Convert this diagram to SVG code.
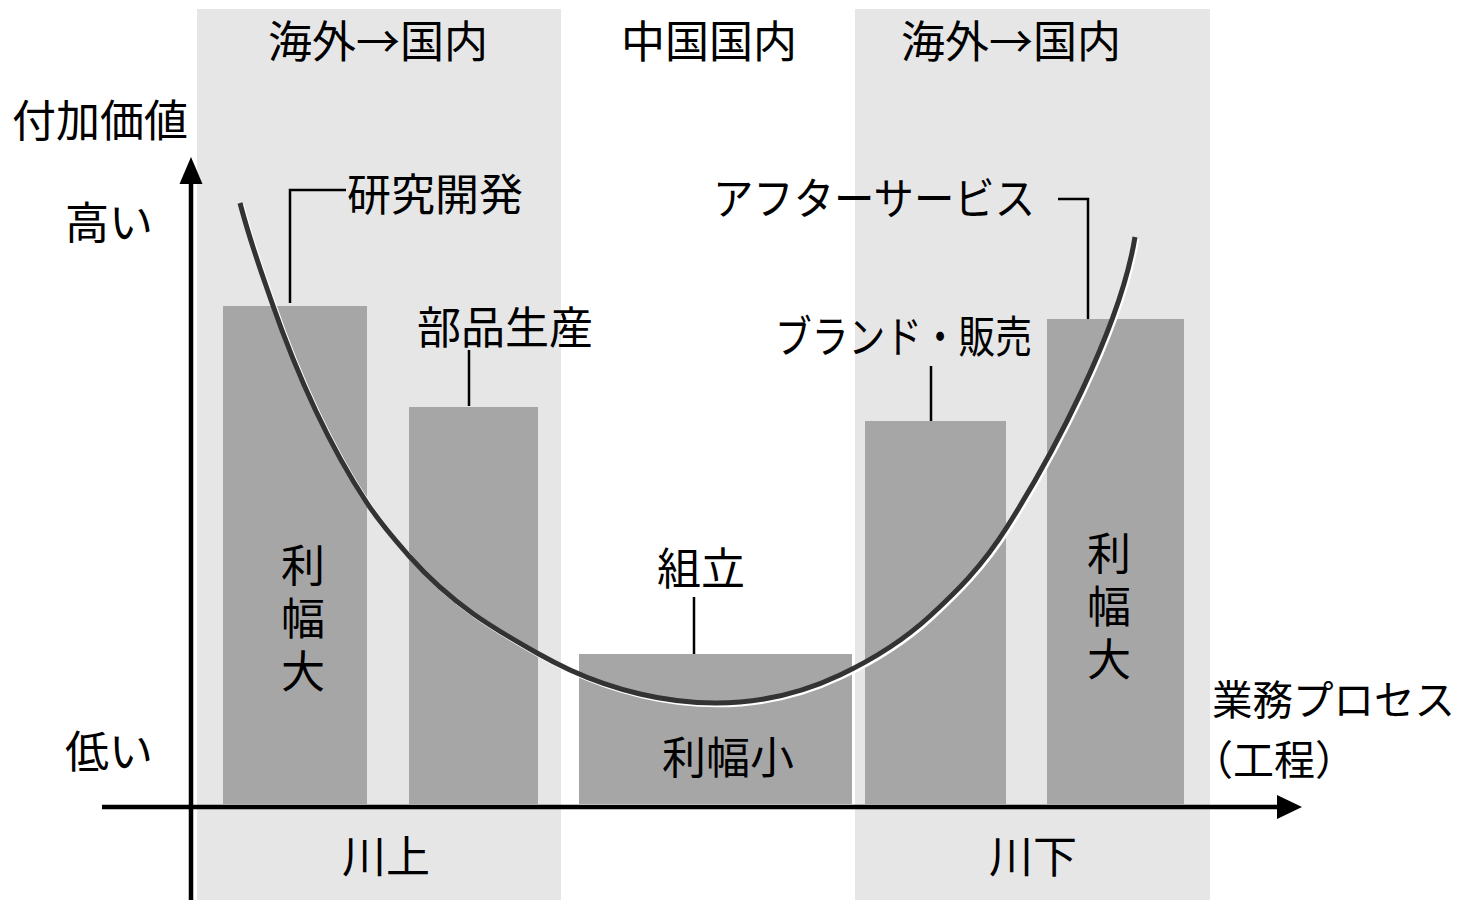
<svg xmlns="http://www.w3.org/2000/svg" width="1466" height="900" viewBox="0 0 1466 900">
  <style>
    .t { font-family: "Noto Sans CJK JP", "Noto Sans CJK SC", sans-serif; font-size: 44px; fill: #000; }
    .s { font-size: 41px; }
    .m { text-anchor: middle; }
    .v { writing-mode: vertical-rl; letter-spacing: 9px; }
    .panel { fill: #e6e6e6; }
    .bar { fill: #a6a6a6; }
    .lead { fill: none; stroke: #000; stroke-width: 2.5; }
    .axis { stroke: #000; stroke-width: 4.5; fill: none; }
  </style>
  <defs>
    <path id="smile-path" d="M240,203 C250.3,242.3 260.7,270.2 271,300 C303,392.2 335,454.4 367,503 C381.3,524.8 395.7,540.8 410,557 C452.3,604.8 494.7,629.1 537,653 C548,659.2 559,664.9 570,670 C593.3,680.7 616.7,688.5 640,694 C665.3,700 690.7,703 716,703 C757.3,703 798.7,694.6 840,675 C870,660.75 900,643.75 930,616 C955.7,592.3 981.3,567.6 1007,527 C1049.7,459.6 1120,330 1135,237"/>
  </defs>
  <rect width="1466" height="900" fill="#fff"/>

  <g id="panels">
    <rect class="panel" x="197" y="9" width="364" height="891"/>
    <rect class="panel" x="855" y="9" width="355" height="891"/>
  </g>

  <g id="bars">
    <rect id="bar-rd" class="bar" x="223" y="306" width="144" height="498"/>
    <rect id="bar-parts" class="bar" x="409" y="407" width="129" height="397"/>
    <rect id="bar-assembly" class="bar" x="579" y="654" width="273" height="150"/>
    <rect id="bar-brand" class="bar" x="865" y="421" width="141" height="383"/>
    <rect id="bar-service" class="bar" x="1047" y="319" width="137" height="485"/>
  </g>

  <g id="curve">
    <use href="#smile-path" transform="translate(1.8,1.8)" fill="none" stroke="#fff" stroke-width="5"/>
    <use href="#smile-path" fill="none" stroke="#333" stroke-width="5"/>
  </g>

  <g id="axes">
    <line class="axis" x1="191" y1="900" x2="191" y2="180"/>
    <polygon points="191,157 179.5,184 202.5,184" fill="#000"/>
    <line class="axis" x1="102" y1="807" x2="1280" y2="807"/>
    <polygon points="1302,807 1277,795 1277,819" fill="#000"/>
  </g>

  <g id="connectors">
    <polyline class="lead" points="290,303 290,190 346,190"/>
    <line class="lead" x1="469" y1="350" x2="469" y2="406"/>
    <line class="lead" x1="694" y1="597" x2="694" y2="654"/>
    <line class="lead" x1="931" y1="366" x2="931" y2="421"/>
    <polyline class="lead" points="1058,199 1088,199 1088,319"/>
  </g>

  <g id="region-labels">
    <text class="t m" x="378" y="58">海外→国内</text>
    <text class="t m" x="709" y="58">中国国内</text>
    <text class="t m" x="1011" y="58">海外→国内</text>
    <text class="t m" x="386" y="873">川上</text>
    <text class="t m" x="1033" y="873">川下</text>
  </g>

  <g id="axis-labels">
    <text class="t" x="12" y="137">付加価値</text>
    <text class="t" x="65" y="239">高い</text>
    <text class="t" x="65" y="768">低い</text>
    <text class="t s" x="1212" y="715" textLength="243" lengthAdjust="spacingAndGlyphs">業務プロセス</text>
    <text class="t s" x="1192" y="775">（工程）</text>
  </g>

  <g id="node-rd"><text class="t" x="347" y="211">研究開発</text></g>
  <g id="node-parts"><text class="t" x="417" y="344">部品生産</text></g>
  <g id="node-assembly"><text class="t m" x="701" y="585">組立</text></g>
  <g id="node-brand"><text class="t" x="775" y="353" textLength="257" lengthAdjust="spacingAndGlyphs">ブランド・販売</text></g>
  <g id="node-service"><text class="t" x="713" y="215" textLength="322" lengthAdjust="spacingAndGlyphs">アフターサービス</text></g>

  <g id="margin-labels">
    <text class="t v" x="303" y="543">利幅大</text>
    <text class="t v" x="1109" y="531">利幅大</text>
    <text class="t m" x="728" y="774">利幅小</text>
  </g>
</svg>
